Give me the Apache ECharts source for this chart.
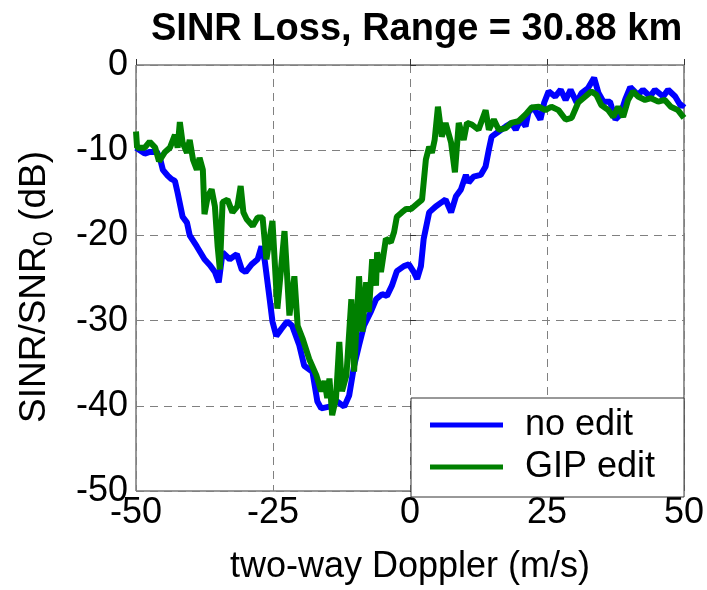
<!DOCTYPE html>
<html>
<head>
<meta charset="utf-8">
<script src="https://cdn.jsdelivr.net/npm/echarts@6/dist/echarts.min.js"></script>
<style>
  html, body { margin: 0; padding: 0; background: #fff; }
  #chart { width: 707px; height: 590px; }
</style>
</head>
<body>
<div id="chart"></div>
<script>
// two-way Doppler (m/s) and SINR loss (dB)
var dopplerNoEdit = [-50, -49.3, -48.4, -47.5, -46.2, -45.6, -45.1, -44.2, -43.5, -42.9, -42.4, -41.5, -40.7, -40.2,
  -38.9, -37.5, -36.5, -35.6, -34.9, -34.2, -32.9, -31.6, -30.7, -30, -28.9, -27.8, -27.1, -26.5, -25.6, -25.1,
  -24.4, -23.5, -22.4, -21.5, -20.2, -19.3, -17.8, -16.9, -16.2, -14.7, -13.3, -12, -11.1, -10.2, -9.3, -8.4,
  -7.1, -6.2, -5.1, -4.2, -3.3, -2.4, -1.1, -0.2, 0.7, 1.3, 2, 2.5, 3.5, 4.7, 5.8, 6.5, 7.5, 8.4, 9.3, 10.2,
  10.7, 11.6, 12.9, 13.8, 14.4, 14.9, 16.2, 17.5, 18.5, 19.3, 20.2, 21.1, 21.6, 22.5, 23.8, 24.5, 25.3, 26.5,
  27.5, 28.4, 29.3, 30.4, 31.3, 32.5, 33.6, 34.4, 35.3, 36.5, 37.5, 38.4, 39.3, 40.2, 41.6, 42.5, 43.8, 44.7,
  46.2, 47.1, 48.4, 49.5, 50]
var lossNoEdit = [-9.7, -10, -10.4, -10.2, -10.2, -11, -12.3, -13, -13.4, -13.6, -15, -17.8, -18.5, -20,
  -21.3, -22.8, -23.5, -24.3, -25.5, -22, -22.8, -22.2, -24, -24.3, -23.4, -22.8, -21.3, -23, -27.5, -30.1,
  -31.8, -31, -30.1, -30.6, -32.9, -35.3, -36, -39.5, -40.3, -40.1, -39.5, -40.1, -38.8, -35.3, -32.9, -30.6,
  -28.9, -27.5, -26.9, -27.1, -25.9, -24.2, -23.6, -23.4, -24.3, -25.1, -23.6, -20.4, -17.3, -16.6, -16.1, -15.8, -17.3, -15.4, -14.6, -12.9,
  -13.8, -13.1, -12.9, -11.9, -9.9, -8.4, -7.8, -7.2, -6.8, -7.6, -6.4, -7.2, -5.6, -4.9, -6.4, -4.4, -3.1, -3.7,
  -2.9, -4.1, -2.9, -4.4, -3.3, -2.7, -1.5, -3.3, -4.3, -4.3, -6.4, -5.8, -4, -2.6, -3.5, -2.9, -3.7, -2.9,
  -3.7, -2.9, -3.7, -4.9, -4.5]

var dopplerGip = [-50, -49.8, -48.4, -47.5, -46.5, -45.8, -44.7, -43.8, -42.9, -42.4, -42, -41.5, -40.7, -40.2,
  -39.6, -38.9, -38.4, -37.8, -37.5, -36.9, -36.2, -35.6, -35.1, -34.7, -34.2, -33.3, -32.4, -31.5, -30.9, -30.4,
  -29.8, -28.7, -27.8, -26.9, -26.2, -25.1, -24.2, -22.9, -22, -21.1, -20.5, -19.6, -18.4, -17.1, -16.2, -15.6,
  -15.1, -14.7, -14.2, -13.5, -12.9, -12.4, -11.6, -10.7, -10.2, -9.3, -8.7, -8, -7.5, -6.9, -6.2, -6, -5.3,
  -4.4, -3.5, -2.9, -2.4, -1.5, -0.7, 0.2, 1.1, 2.2, 2.9, 3.5, 4, 4.5, 5.1, 5.8, 6.5, 7.5, 8.2, 8.9, 9.8, 10.4,
  11.3, 12.5, 13.8, 14.4, 15.3, 16.2, 17.5, 18.5, 19.8, 21.1, 22.2, 23.5, 24.7, 25.8, 27.1, 28.4, 29.5, 30.7,
  32, 33.1, 34, 34.9, 36.2, 37.1, 38, 38.9, 39.8, 40.7, 41.6, 42.9, 44, 45.3, 46.5, 47.6, 48.9, 50]
var lossGip = [-7.8, -9.7, -9.7, -9, -9.7, -11.3, -10.2, -9.7, -8.2, -9.7, -6.7, -9.1, -10.3, -8.8,
  -11.1, -12.3, -10.9, -12.3, -17.5, -15.4, -14.6, -16.6, -21.3, -24, -16.1, -15.8, -17.3, -16.6, -14.2, -17.3,
  -18.1, -18.9, -17.9, -17.9, -22.8, -18.3, -28.6, -19.5, -29.4, -24.8, -30.6, -32.1, -34.5, -36.4, -38.3, -37.1,
  -39.1, -36.8, -41.1, -39.1, -32.5, -38.3, -36.4, -27.5, -36, -24.8, -31.3, -25.5, -29, -22.8, -25.9, -22, -24.3,
  -20.4, -20.8, -19.6, -17.8, -17.3, -16.9, -16.9, -16.4, -15.8, -11.1, -9.6, -10.3, -8.8, -4.9, -8.4, -6.8, -9.1, -12.6, -6.8, -8.8, -6.8,
  -7, -7.6, -5.3, -7.6, -6.4, -7.6, -7.4, -6.8, -6.6, -5.8, -5, -4.9, -5.3, -4.9, -5.3, -6.4, -6.2, -4.4,
  -3.7, -3.1, -3.5, -4.7, -5.3, -6.1, -4.9, -6.1, -4.1, -3.1, -3.7, -4.1, -3.9, -4.3, -4.1, -4.9, -5.3, -6.2]

var seriesNames = ['no edit', 'GIP edit']
var xTicks = [-50, 50, 25]   // min, max, interval
var yTicks = [-50, 0, 10]

function zip(xs, ys) {
  return xs.map(function(x, i) { return [x, ys[i]] })
}

var font = '"Liberation Sans", Arial, sans-serif'
var chart = echarts.init(document.getElementById('chart'), null, { renderer: 'canvas' })

chart.setOption({
  backgroundColor: '#fff',
  animation: false,
  title: {
    text: 'SINR Loss, Range = 30.88 km',
    left: 146,
    top: 6,
    textStyle: { fontFamily: font, fontSize: 38, fontWeight: 'bold', color: '#000' }
  },
  grid: {
    left: 136,
    right: 21,
    top: 65,
    bottom: 97,
    show: true,
    borderColor: '#333',
    borderWidth: 1,
    backgroundColor: '#fff'
  },
  legend: {
    data: seriesNames,
    orient: 'vertical',
    left: 411,
    top: 398,
    padding: [9, 29, 12, 19],
    itemGap: 6,
    itemWidth: 73,
    itemHeight: 5,
    icon: 'rect',
    backgroundColor: '#fff',
    borderColor: '#333',
    borderWidth: 1,
    textStyle: {
      fontFamily: font,
      fontSize: 36,
      lineHeight: 36,
      color: '#000',
      padding: [0, 0, 0, 17]
    }
  },
  xAxis: {
    type: 'value',
    min: xTicks[0],
    max: xTicks[1],
    interval: xTicks[2],
    name: 'two-way Doppler (m/s)',
    nameLocation: 'middle',
    nameGap: 58,
    nameTextStyle: { fontFamily: font, fontSize: 36, color: '#000' },
    axisLine: { show: false },
    axisTick: { show: true, inside: true, length: 6, lineStyle: { color: '#333' } },
    axisLabel: { fontFamily: font, fontSize: 36, color: '#000', margin: 4 },
    splitLine: { show: true, lineStyle: { color: '#808080', type: [8, 6], width: 1 } }
  },
  yAxis: {
    type: 'value',
    min: yTicks[0],
    max: yTicks[1],
    interval: yTicks[2],
    name: 'SINR/SNR{sub|0} (dB)',
    nameLocation: 'middle',
    nameGap: 78,
    nameTextStyle: {
      fontFamily: font,
      fontSize: 37,
      color: '#000',
      padding: [0, 18, 0, 0],
      rich: {
        sub: { fontFamily: font, fontSize: 27, color: '#000', padding: [20, 0, 0, 0] }
      }
    },
    axisLine: { show: false },
    axisTick: { show: true, inside: true, length: 6, lineStyle: { color: '#333' } },
    axisLabel: { fontFamily: font, fontSize: 36, color: '#000', margin: 8 },
    splitLine: { show: true, lineStyle: { color: '#808080', type: [8, 6], width: 1 } }
  },
  series: [
    {
      name: seriesNames[0],
      type: 'line',
      data: zip(dopplerNoEdit, lossNoEdit),
      showSymbol: false,
      color: '#0000ff',
      lineStyle: { color: '#0000ff', width: 6 },
      z: 2
    },
    {
      name: seriesNames[1],
      type: 'line',
      data: zip(dopplerGip, lossGip),
      showSymbol: false,
      color: '#008000',
      lineStyle: { color: '#008000', width: 6 },
      z: 3
    }
  ]
})
</script>
</body>
</html>
